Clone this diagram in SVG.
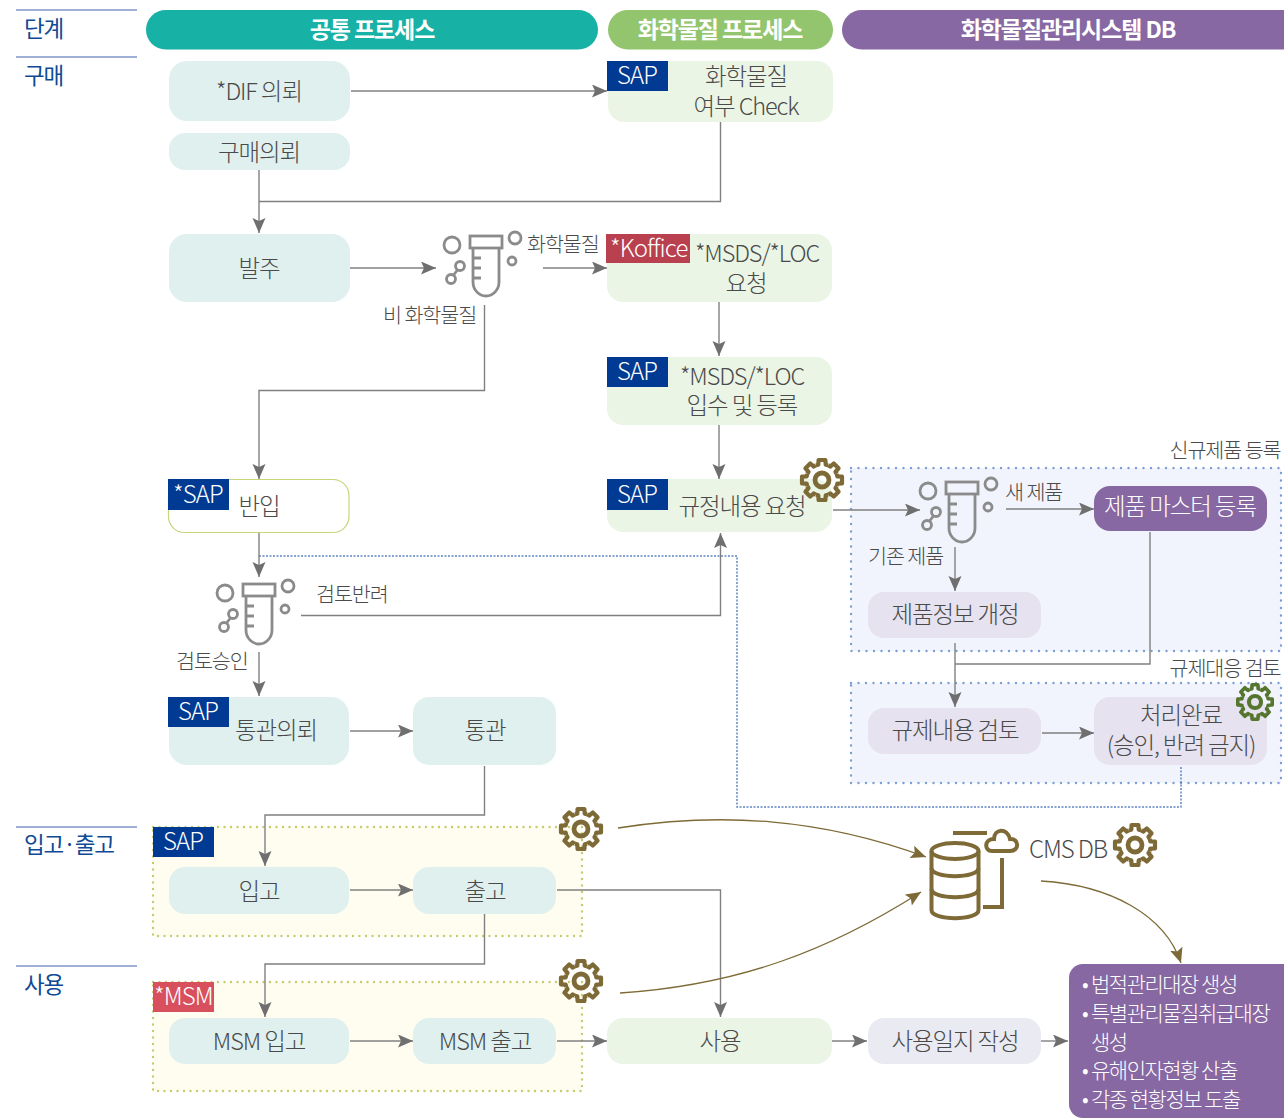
<svg xmlns="http://www.w3.org/2000/svg" xmlns:xlink="http://www.w3.org/1999/xlink" width="1284" height="1118" viewBox="0 0 1284 1118">
<style>
text{font-family:"Noto Sans CJK KR","Noto Sans",sans-serif;font-weight:300;letter-spacing:-1.1px;fill:#4a4a4a;font-size:23.5px}
.c{text-anchor:middle}
.w{fill:#fff}
.b{font-weight:700;fill:#fff;font-size:23px}
.st{fill:#0f4a96;font-size:22.5px;font-weight:400}
.lb{font-size:20.7px}
.tag{fill:#fff;font-size:24px;letter-spacing:-.9px}
.out{fill:#fff;font-size:21px;letter-spacing:-1.5px}
.teal{fill:#e0f0ef}.grn{fill:#ebf5e6}.lav{fill:#e6e2ef}
.sap{fill:#003a92}.rd{fill:#b9414f}
.con{fill:none;stroke:#808080;stroke-width:1.4}
.arr{marker-end:url(#a)}
.cur{fill:none;stroke:#7d6a36;stroke-width:1.3;marker-end:url(#ab)}
.pan{fill:#f1f4fd;stroke:#7d9ed4;stroke-width:2.4;stroke-dasharray:0 7.5;stroke-linecap:round}
.yel{fill:#fefdf0;stroke:#c5cc6c;stroke-width:2.4;stroke-dasharray:0 6.5;stroke-linecap:round}
.ln{stroke:#7f97c8;stroke-width:1.6}
.fl{fill:none;stroke:#8b8b8b;stroke-width:2.8}
.ic{fill:none;stroke:#7d6a36;stroke-width:4}
</style>
<defs>
<marker id="a" markerUnits="userSpaceOnUse" markerWidth="17" markerHeight="14" refX="15" refY="6.5" orient="auto"><path d="M0 0L15 6.5L0 13L3 6.5Z" fill="#6f6f6f"/></marker>
<marker id="ab" markerUnits="userSpaceOnUse" markerWidth="17" markerHeight="14" refX="15" refY="6.5" orient="auto"><path d="M0 0L15 6.5L0 13L3 6.5Z" fill="#7d6a36"/></marker>
<g id="flask" class="fl">
<rect x="-16" y="0" width="32" height="12"/>
<path d="M-13 12V46a13 14 0 0 0 26 0V12M-13 22h8M-13 32h8M-13 42h8"/>
<circle cx="-34" cy="9" r="8"/><circle cx="29" cy="2" r="6"/><circle cx="26" cy="25" r="4"/>
<circle cx="-26" cy="30" r="4.500"/><circle cx="-35" cy="43" r="4.500"/><path d="M-28.500 34L-32.500 39"/>
</g>
<path id="t" d="M-6.1-14.8L-3.7-15.3L-3.4-20H3.4L3.7-15.3L6.1-14.8"/>
<g id="gear" fill="none" stroke-width="4.2" stroke-linejoin="round">
<use xlink:href="#t"/><use xlink:href="#t" transform="rotate(45)"/><use xlink:href="#t" transform="rotate(90)"/><use xlink:href="#t" transform="rotate(135)"/><use xlink:href="#t" transform="rotate(180)"/><use xlink:href="#t" transform="rotate(225)"/><use xlink:href="#t" transform="rotate(270)"/><use xlink:href="#t" transform="rotate(315)"/>
<circle r="7" stroke-width="4.8"/>
</g>
</defs>

<g id="stages">
<path class="ln" d="M16 10H137M16 57H137M16 827H137M16 966H137"/>
<text class="st" x="24" y="37">단계</text>
<text class="st" x="24" y="84">구매</text>
<text class="st" x="24" y="853">입고·출고</text>
<text class="st" x="24" y="993">사용</text>
</g>

<g id="headers">
<rect x="146" y="10" width="452" height="39.5" rx="19.7" fill="#17b2a5"/>
<text class="c b" x="372" y="37.500">공통 프로세스</text>
<rect x="608" y="10" width="225" height="39.5" rx="19.7" fill="#93c56e"/>
<text class="c b" x="720" y="37.500">화학물질 프로세스</text>
<rect x="842" y="10" width="462" height="39.5" rx="19.7" fill="#8768a2"/>
<text class="c b" x="1068" y="37.500">화학물질관리시스템 DB</text>
</g>

<g id="panels">
<rect class="yel" x="153" y="827" width="429" height="109"/>
<rect class="yel" x="153" y="982" width="429" height="109"/>
<rect class="pan" x="851" y="468" width="430" height="183"/>
<rect class="pan" x="851" y="683" width="430" height="100"/>
<text class="c lb" x="1225" y="458">신규제품 등록</text>
<text class="c lb" x="1225" y="676">규제대응 검토</text>
</g>

<g id="connectors">
<path class="con arr" d="M351 91H607"/>
<path class="con" d="M720.500 122V201.500H259"/>
<path class="con arr" d="M259 170V233"/>
<path class="con arr" d="M350 268H436"/>
<path class="con arr" d="M543 268H607"/>
<path class="con arr" d="M484.500 305V390.500H259V479"/>
<path class="con arr" d="M719 302V356"/>
<path class="con arr" d="M719 425V479"/>
<path class="con arr" d="M259 533V577"/>
<path fill="none" stroke="#5f86c4" stroke-width="1.5" stroke-dasharray="2 1.5" d="M259 556H737V807H1181V766"/>
<path class="con arr" d="M301 615.500H720.500V533"/>
<path class="con arr" d="M259 652V696"/>
<path class="con arr" d="M350 731H413"/>
<path class="con arr" d="M484.500 766V815H265V866"/>
<path class="con arr" d="M350 890H413"/>
<path class="con arr" d="M557 890H720.500V1017"/>
<path class="con arr" d="M484.500 914V964H265V1017"/>
<path class="con arr" d="M350 1041H413"/>
<path class="con arr" d="M557 1041H607"/>
<path class="con arr" d="M832 1041H867"/>
<path class="con arr" d="M1041 1041H1068"/>
<path class="con arr" d="M833 510H920"/>
<path class="con arr" d="M1006 509H1094"/>
<path class="con arr" d="M955 547V591"/>
<path class="con arr" d="M955 643V707"/>
<path class="con" d="M1150 532V664H955"/>
<path class="con arr" d="M1042 733H1094"/>
<path class="cur" d="M618 828C720 812 820 818 926 857"/>
<path class="cur" d="M620 993C740 985 830 950 921 892"/>
<path class="cur" d="M1041 881C1110 885 1165 915 1181 963"/>
</g>

<g id="n-dif"><rect class="teal" x="169" y="61" width="181" height="60" rx="18"/><text class="c" x="259" y="100">*DIF 의뢰</text></g>
<g id="n-req"><rect class="teal" x="169" y="133" width="181" height="37" rx="16"/><text class="c" x="259" y="161">구매의뢰</text></g>
<g id="n-order"><rect class="teal" x="169" y="234" width="181" height="68" rx="18"/><text class="c" x="259" y="277">발주</text></g>
<g id="n-check"><rect class="grn" x="608" y="61" width="225" height="61" rx="16"/><rect class="sap" x="607" y="61" width="61" height="30"/><text class="tag" x="617" y="84">SAP</text><text class="c" y="85"><tspan x="746">화학물질</tspan><tspan x="746" dy="30">여부 Check</tspan></text></g>
<g id="n-msds"><rect class="grn" x="607" y="234" width="225" height="68" rx="16"/><rect class="rd" x="606" y="234" width="84" height="29"/><text class="tag" x="610" y="257">*Koffice</text><text class="c" y="262"><tspan x="757">*MSDS/*LOC</tspan><tspan x="746" dy="30">요청</tspan></text></g>
<g id="n-msds2"><rect class="grn" x="607" y="357" width="225" height="68" rx="16"/><rect class="sap" x="607" y="357" width="61" height="30"/><text class="tag" x="617" y="380">SAP</text><text class="c" y="385"><tspan x="742">*MSDS/*LOC</tspan><tspan x="742" dy="29">입수 및 등록</tspan></text></g>
<g id="n-reg"><rect class="grn" x="607" y="479" width="225" height="53" rx="16"/><rect class="sap" x="607" y="479" width="61" height="31"/><text class="tag" x="617" y="503">SAP</text><text class="c" x="742" y="515">규정내용 요청</text></g>
<g id="n-in"><rect x="168.500" y="479.500" width="180.500" height="53" rx="16" fill="#fff" stroke="#c5d67b" stroke-width="1.2"/><rect class="sap" x="168" y="479" width="61" height="31"/><text class="tag" x="173" y="503">*SAP</text><text class="c" x="259" y="515">반입</text></g>
<g id="n-cc"><rect class="teal" x="169" y="697" width="180" height="68" rx="18"/><rect class="sap" x="168" y="697" width="61" height="30"/><text class="tag" x="178" y="720">SAP</text><text class="c" x="276" y="739">통관의뢰</text></g>
<g id="n-cu"><rect class="teal" x="413" y="697" width="143" height="68" rx="16"/><text class="c" x="485" y="739">통관</text></g>
<g id="n-ib"><rect class="teal" x="169" y="867" width="180" height="47" rx="16"/><text class="c" x="259" y="900">입고</text></g>
<g id="n-ob"><rect class="teal" x="413" y="867" width="143" height="47" rx="16"/><text class="c" x="485" y="900">출고</text></g>
<g id="t-sap"><rect class="sap" x="153" y="827" width="61" height="30"/><text class="tag" x="163" y="850">SAP</text></g>
<g id="t-msm"><rect x="153" y="982" width="61" height="30" fill="#d8505e"/><text class="tag" x="154" y="1005">*MSM</text></g>
<g id="n-mi"><rect class="teal" x="169" y="1018" width="180" height="46" rx="16"/><text class="c" x="259" y="1050">MSM 입고</text></g>
<g id="n-mo"><rect class="teal" x="413" y="1018" width="143" height="46" rx="16"/><text class="c" x="485" y="1050">MSM 출고</text></g>
<g id="n-use"><rect class="grn" x="607" y="1018" width="225" height="46" rx="16"/><text class="c" x="720" y="1050">사용</text></g>
<g id="n-log"><rect x="868" y="1018" width="173" height="46" rx="16" fill="#eaebf2"/><text class="c" x="955" y="1050">사용일지 작성</text></g>
<g id="n-master"><rect x="1094" y="486" width="173" height="45" rx="16" fill="#8768a2"/><text class="c w" x="1180" y="515">제품 마스터 등록</text></g>
<g id="n-info"><rect class="lav" x="868" y="592" width="173" height="46" rx="16"/><text class="c" x="955" y="623">제품정보 개정</text></g>
<g id="n-rev"><rect class="lav" x="868" y="708" width="173" height="46" rx="16"/><text class="c" x="955" y="739">규제내용 검토</text></g>
<g id="n-done"><rect class="lav" x="1094" y="697" width="173" height="68" rx="16"/><text class="c" y="724"><tspan x="1181">처리완료</tspan><tspan x="1181" dy="30">(승인, 반려 금지)</tspan></text></g>
<g id="n-out"><rect x="1069" y="964" width="240" height="154" rx="14" fill="#8768a2"/>
<text class="out" y="992"><tspan x="1082">•</tspan><tspan x="1091">법적관리대장 생성</tspan><tspan x="1082" dy="29">•</tspan><tspan x="1091">특별관리물질취급대장</tspan><tspan x="1091" dy="29">생성</tspan><tspan x="1082" dy="28">•</tspan><tspan x="1091">유해인자현황 산출</tspan><tspan x="1082" dy="29">•</tspan><tspan x="1091">각종 현황정보 도출</tspan></text></g>

<g id="icons">
<use xlink:href="#flask" x="486" y="236"/>
<use xlink:href="#flask" x="259" y="584"/>
<use xlink:href="#flask" x="962" y="482"/>
<use xlink:href="#gear" x="822" y="480" stroke="#7d6a36"/>
<use xlink:href="#gear" x="581" y="829" stroke="#7d6a36"/>
<use xlink:href="#gear" x="581" y="981" stroke="#7d6a36"/>
<use xlink:href="#gear" x="1135" y="845" stroke="#7d6a36"/>
<use xlink:href="#gear" transform="translate(1255 702) scale(.86)" stroke="#56752f"/>
<g id="db" class="ic">
<ellipse cx="955" cy="851" rx="23.500" ry="8"/>
<path d="M931.500 851V868C931.500 879 978.500 879 978.500 868V851"/>
<path d="M931.500 868V889C931.500 900 978.500 900 978.500 889V868"/>
<path d="M931.500 889V910C931.500 921 978.500 921 978.500 910V889"/>
<path d="M953 833H987M1002 858V907H983"/>
<path d="M992 851H1010C1020 851 1019 838 1010 839C1007 827 994 829 994 839C984 839 984 851 992 851Z"/>
</g>
</g>

<g id="labels">
<text class="lb" x="527" y="252">화학물질</text>
<text class="lb" x="383" y="323">비 화학물질</text>
<text class="lb" x="316" y="602">검토반려</text>
<text class="lb" x="176" y="669">검토승인</text>
<text class="lb" x="1005" y="500">새 제품</text>
<text class="lb" x="868" y="564">기존 제품</text>
<text x="1029" y="858" style="font-size:24px">CMS DB</text>
</g>
</svg>
